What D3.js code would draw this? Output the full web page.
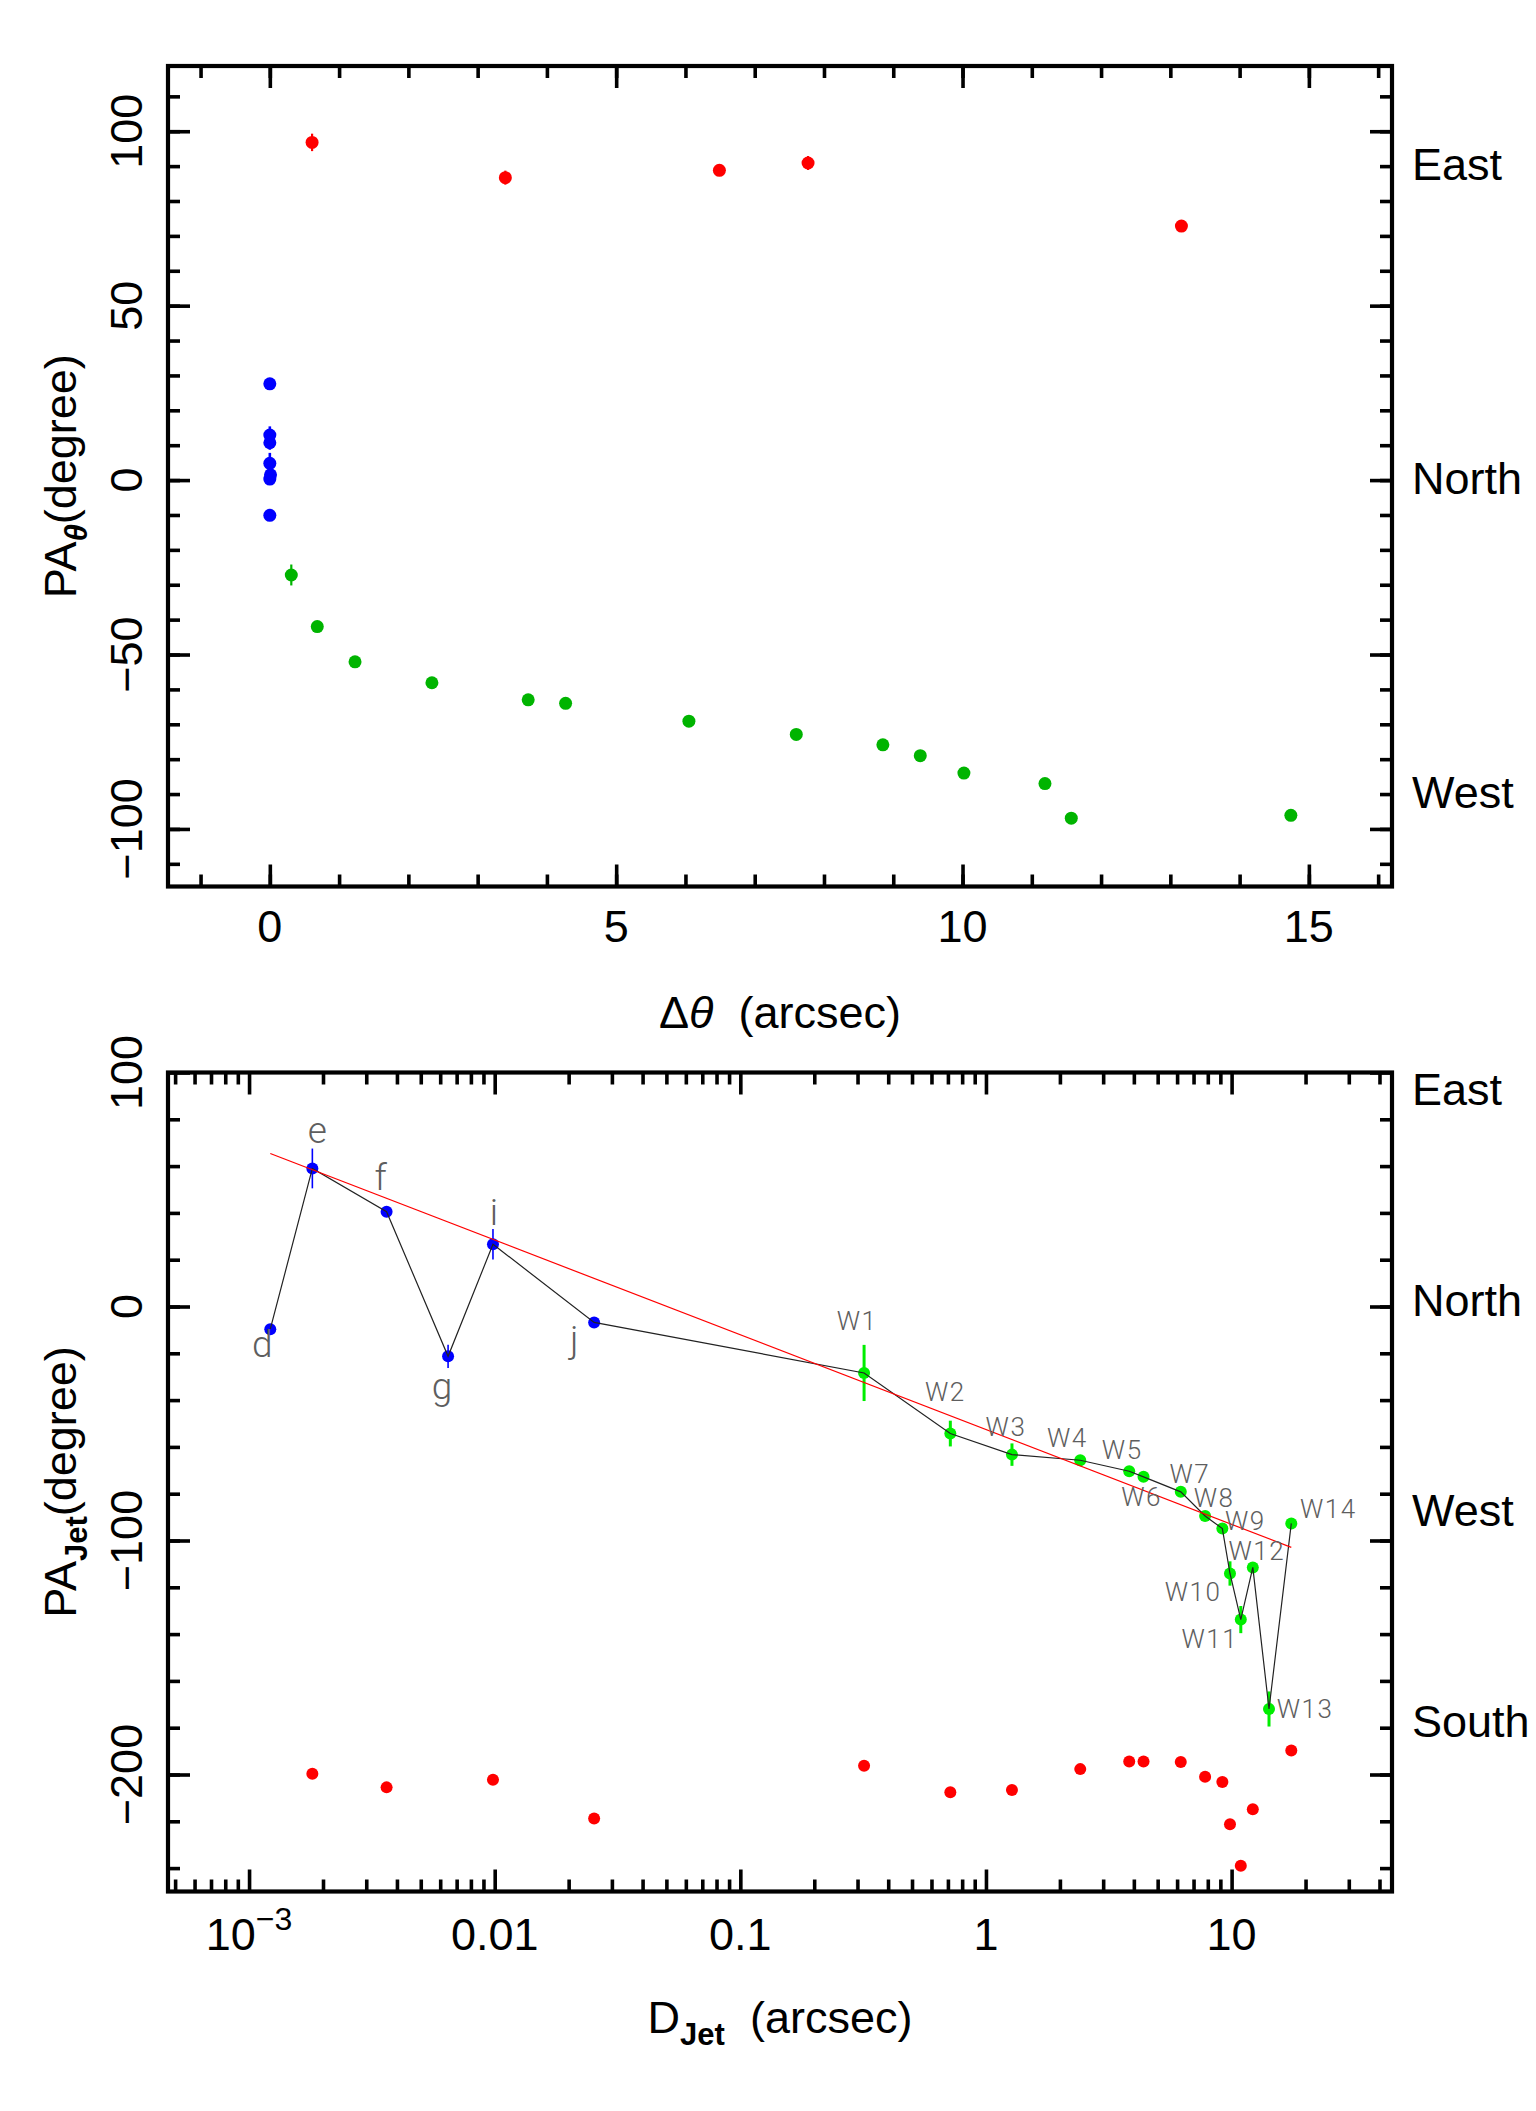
<!DOCTYPE html>
<meta charset="utf-8">
<style>
body { margin: 0; background: #fff; }
text { font-family: "Liberation Sans", Arial, sans-serif; fill: #000; }
.knot { font-family: Roboto, "Liberation Sans", sans-serif; font-weight: 300; fill: #5e5e5e; }
</style>
<svg width="1536" height="2111"></svg>
<script src="https://d3js.org/d3.v7.min.js"></script>
<script>

// ---- top panel: PA vs angular distance ----
var eastDist = [0.61, 3.40, 6.49, 7.77, 13.16],
    eastPA   = [96.8, 86.7, 88.8, 90.9, 72.8],
    eastErr  = [2.5, 2.0, 0, 2.0, 0];

var coreDist = [0.0, 0.0, 0.0, 0.0, 0.01, 0.0, 0.0],
    corePA   = [27.6, 12.9, 10.7, 4.8, 1.5, 0.3, -10.1],
    coreErr  = [0, 2.5, 2.0, 3.0, 1.0, 0, 0];

var westDist = [0.31, 0.685, 1.23, 2.34, 3.73, 4.27, 6.05, 7.60, 8.85, 9.39, 10.02, 11.19, 11.57, 14.74],
    westPA   = [-27.2, -42.0, -52.1, -58.1, -63.0, -64.0, -69.1, -72.9, -75.9, -79.0, -84.0, -87.0, -96.9, -96.1],
    westErr  = [3, 0, 0, 0, 0, 0, 0, 0, 0, 0, 0, 0, 0, 0];

var topDirNames = ["East", "North", "West"],
    topDirPA    = [90, 0, -90];

// ---- bottom panel: jet PA vs jet distance ----
var knotNames = ["d", "e", "f", "g", "i", "j", "W1", "W2", "W3", "W4", "W5", "W6", "W7",
                 "W8", "W9", "W10", "W11", "W12", "W13", "W14"];
var knotDist  = [0.00122, 0.00181, 0.00363, 0.00646, 0.00984, 0.0254, 0.319, 0.716, 1.276,
                 2.42, 3.83, 4.38, 6.21, 7.80, 9.17, 9.85, 10.9, 12.2, 14.2, 17.5];
var knotPA    = [-9.7, 59.0, 40.5, -21.3, 26.6, -6.8, -28.4, -54.3, -63.3, -65.7, -70.4,
                 -72.8, -79.2, -89.5, -94.9, -114.1, -133.8, -111.5, -172.0, -92.7];
var knotErr   = [0, 8.5, 0, 5, 6.5, 0, 12, 5.5, 4.8, 0, 0, 0, 0, 0, 0, 5.2, 5.8, 0, 7.5, 0];

var otherDist = [0.00181, 0.00363, 0.00984, 0.0254, 0.319, 0.716, 1.276, 2.42, 3.83, 4.38,
                 6.21, 7.80, 9.17, 9.85, 10.9, 12.2, 17.5];
var otherPA   = [-199.7, -205.5, -202.2, -218.8, -196.3, -207.6, -206.6, -197.7, -194.4, -194.4,
                 -194.7, -201.0, -203.2, -221.3, -239.0, -214.9, -189.7];

// linear fit PA = a + b*log10(D)
var fitIntercept = -52.6, fitSlope = -40.5;

var botDirNames = ["East", "North", "West", "South"],
    botDirPA    = [90, 0, -90, -180];

// label placement (dx, baseline dy) relative to each knot, in px
var knotLabelDx = [-8, 5, -6, -6, 1, -20, -7, -5, -6, -13, -7, -2, 9, 9, 23, -37, -31, 4, 36, 37];
var knotLabelDy = [28, -25, -22, 43, -19, 30, -43, -33, -19, -13, -12, 29, -9, -9, 1, 28, 28, -7, 9, -5];

var svg = d3.select("svg");

var L = 168, R = 1392;
var top1 = 66, bot1 = 886.5, top2 = 1072.5, bot2 = 1891.5;
var FS = 45;

var x1 = d3.scaleLinear().domain([-1.47, 16.2]).range([L, R]);
var y1 = d3.scaleLinear().domain([-116.5, 118.7]).range([bot1, top1]);
var x2 = d3.scaleLog().domain([Math.pow(10, -3.33), Math.pow(10, 1.653)]).range([L, R]);
var y2 = d3.scaleLinear().domain([-250, 100]).range([bot2, top2]);

function tickSet(x, y, xMaj, xMin, yMaj, yMin) {
  var g = svg.append("g");
  var defs = [
    [d3.axisBottom, x, "translate(0," + y.range()[0] + ")"],
    [d3.axisTop, x, "translate(0," + y.range()[1] + ")"],
    [d3.axisLeft, y, "translate(" + x.range()[0] + ",0)"],
    [d3.axisRight, y, "translate(" + x.range()[1] + ",0)"]
  ];
  defs.forEach(function(d, i) {
    var vals = i < 2 ? [xMaj, xMin] : [yMaj, yMin];
    [22, 12].forEach(function(len, k) {
      g.append("g").attr("transform", d[2])
        .call(d[0](d[1]).tickValues(vals[k]).tickSize(-len).tickFormat(""))
        .call(function(s) { s.select(".domain").remove(); })
        .selectAll("line").attr("stroke", "#000").attr("stroke-width", 3.6);
    });
  });
  svg.append("rect")
    .attr("x", x.range()[0]).attr("y", y.range()[1])
    .attr("width", x.range()[1] - x.range()[0]).attr("height", y.range()[0] - y.range()[1])
    .attr("fill", "none").attr("stroke", "#000").attr("stroke-width", 4.2);
}

function yLabels(y, vals) {
  svg.append("g").selectAll("text").data(vals).join("text")
    .attr("transform", function(d) { return "translate(142," + y(d) + ") rotate(-90)"; })
    .attr("text-anchor", "middle").attr("font-size", FS)
    .text(function(d) { return d < 0 ? "\u2212" + (-d) : d; });
}

function dirLabels(y, names, vals, shift) {
  svg.append("g").selectAll("text").data(names).join("text")
    .attr("x", R + 20).attr("y", function(d, i) { return y(vals[i]) + shift; })
    .attr("font-size", FS).text(function(d) { return d; });
}

function yTitle(cy, sub, italic) {
  var t = svg.append("text")
    .attr("transform", "translate(76," + cy + ") rotate(-90)")
    .attr("text-anchor", "middle").attr("font-size", FS);
  t.append("tspan").text("PA");
  t.append("tspan").attr("font-size", 31).attr("font-weight", "bold")
    .attr("font-style", italic ? "italic" : "normal").attr("dy", 11).text(sub);
  t.append("tspan").attr("dy", -11).text("(degree)");
}

function points(g, x, y, xs, ys, errs, color, r, ew) {
  var idx = d3.range(xs.length);
  g.selectAll(null).data(idx.filter(function(i) { return errs[i] > 0; })).join("line")
    .attr("x1", function(i) { return x(xs[i]); }).attr("x2", function(i) { return x(xs[i]); })
    .attr("y1", function(i) { return y(ys[i] - errs[i]); })
    .attr("y2", function(i) { return y(ys[i] + errs[i]); })
    .attr("stroke", color).attr("stroke-width", ew);
  g.selectAll(null).data(idx).join("circle")
    .attr("cx", function(i) { return x(xs[i]); }).attr("cy", function(i) { return y(ys[i]); })
    .attr("r", r).attr("fill", color);
}

// ================= top panel =================
tickSet(x1, y1, [0, 5, 10, 15], d3.range(-1, 17), [-100, -50, 0, 50, 100], d3.range(-110, 111, 10));
yLabels(y1, [-100, -50, 0, 50, 100]);

svg.append("g").selectAll("text").data([0, 5, 10, 15]).join("text")
  .attr("x", function(d) { return x1(d); }).attr("y", bot1 + 55)
  .attr("text-anchor", "middle").attr("font-size", FS).text(function(d) { return d; });

var xt1 = svg.append("text").attr("x", (L + R) / 2).attr("y", bot1 + 141)
  .attr("text-anchor", "middle").attr("font-size", FS);
xt1.append("tspan").text("\u0394");
xt1.append("tspan").attr("font-style", "italic").text("\u03b8");
xt1.append("tspan").text("\u00a0\u00a0(arcsec)");

yTitle((top1 + bot1) / 2, "\u03b8", true);
dirLabels(y1, topDirNames, topDirPA, 14);

var g1 = svg.append("g");
points(g1, x1, y1, eastDist, eastPA, eastErr, "#ff0000", 6.5, 2.2);
points(g1, x1, y1, coreDist, corePA, coreErr, "#0000ff", 6.5, 2.6);
points(g1, x1, y1, westDist, westPA, westErr, "#00b400", 6.5, 2.2);

// ================= bottom panel =================
var logMinor = x2.ticks().filter(function(d) {
  return Math.abs(Math.log10(d) - Math.round(Math.log10(d))) > 1e-6;
});
var logMajor = [0.001, 0.01, 0.1, 1, 10];
tickSet(x2, y2, logMajor, logMinor, [-200, -100, 0, 100], d3.range(-240, 100, 20));
yLabels(y2, [-200, -100, 0, 100]);

var xl2 = svg.append("g").selectAll("text").data(logMajor).join("text")
  .attr("x", function(d) { return x2(d); }).attr("y", bot2 + 58)
  .attr("text-anchor", "middle").attr("font-size", FS);
xl2.each(function(d) {
  var t = d3.select(this);
  if (d === 0.001) {
    t.append("tspan").text("10");
    t.append("tspan").attr("font-size", 32).attr("dy", -20).text("\u22123");
  } else {
    t.text(d);
  }
});

var xt2 = svg.append("text").attr("x", (L + R) / 2).attr("y", bot2 + 141)
  .attr("text-anchor", "middle").attr("font-size", FS);
xt2.append("tspan").text("D");
xt2.append("tspan").attr("font-size", 31).attr("font-weight", "bold").attr("dy", 12).text("Jet");
xt2.append("tspan").attr("dy", -12).text("\u00a0\u00a0(arcsec)");

yTitle((top2 + bot2) / 2, "Jet", false);
dirLabels(y2, botDirNames, botDirPA, 9);

var g2 = svg.append("g");
points(g2, x2, y2, otherDist, otherPA, otherPA.map(function() { return 0; }), "#ff0000", 6, 2);

var isBlue = knotNames.map(function(n) { return n.charAt(0) !== "W"; });
var bi = d3.range(knotNames.length).filter(function(i) { return isBlue[i]; });
var gi = d3.range(knotNames.length).filter(function(i) { return !isBlue[i]; });
points(g2, x2, y2, bi.map(function(i) { return knotDist[i]; }), bi.map(function(i) { return knotPA[i]; }),
       bi.map(function(i) { return knotErr[i]; }), "#0000ff", 6, 1.6);
points(g2, x2, y2, gi.map(function(i) { return knotDist[i]; }), gi.map(function(i) { return knotPA[i]; }),
       gi.map(function(i) { return knotErr[i]; }), "#00ee00", 6, 3);

// knot-to-knot path
var line = d3.line().x(function(i) { return x2(knotDist[i]); }).y(function(i) { return y2(knotPA[i]); });
g2.append("path").datum(d3.range(knotNames.length)).attr("d", line)
  .attr("fill", "none").attr("stroke", "#222").attr("stroke-width", 1.2);

// linear fit
var fitX = d3.extent(knotDist);
g2.append("path").datum(fitX)
  .attr("d", d3.line().x(function(d) { return x2(d); })
                      .y(function(d) { return y2(fitIntercept + fitSlope * Math.log10(d)); }))
  .attr("fill", "none").attr("stroke", "#ff0000").attr("stroke-width", 1.2);

g2.selectAll("text.knot").data(d3.range(knotNames.length)).join("text")
  .attr("class", "knot")
  .attr("x", function(i) { return x2(knotDist[i]) + knotLabelDx[i]; })
  .attr("y", function(i) { return y2(knotPA[i]) + knotLabelDy[i]; })
  .attr("text-anchor", "middle")
  .attr("font-size", function(i) { return isBlue[i] ? 37 : 26; })
  .attr("letter-spacing", function(i) { return isBlue[i] ? 0 : 1.5; })
  .text(function(i) { return knotNames[i]; });

</script>
